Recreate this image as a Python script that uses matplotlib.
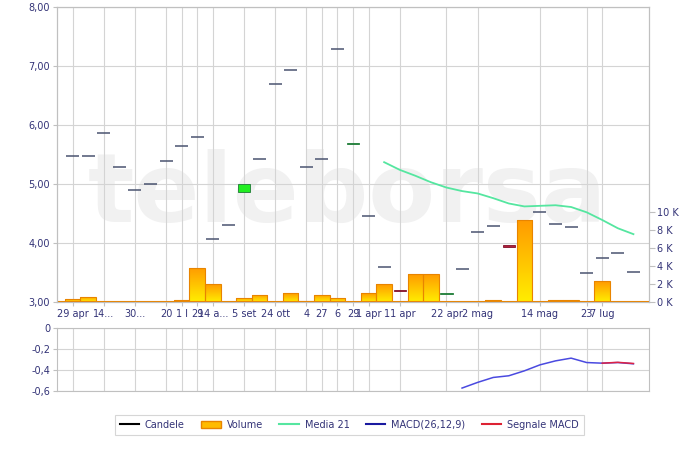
import numpy as np
import matplotlib
matplotlib.use("Agg")
import matplotlib.pyplot as plt
from matplotlib.colors import LinearSegmentedColormap
from matplotlib.lines import Line2D
from matplotlib.patches import Patch

# price candles (one per trading day), nan = not visible
open_p = [5.47, 5.47, 5.86, 5.28, 4.89, 5.00, 5.39, 5.64, 5.80, 4.06,
          4.30, 4.86, 5.42, 6.69, 6.93, 5.28, 5.42, 7.29, 5.68, 4.45,
          3.59, 3.21, np.nan, np.nan, 3.14, 3.56, 4.18, 4.28, 3.96, np.nan,
          4.53, 4.32, 4.27, 3.50, 3.75, 3.83, 3.51]
close_p = [5.47, 5.47, 5.86, 5.28, 4.89, 5.00, 5.39, 5.64, 5.80, 4.06,
           4.30, 5.00, 5.42, 6.69, 6.93, 5.28, 5.42, 7.29, 5.70, 4.45,
           3.59, 3.19, np.nan, np.nan, 3.16, 3.56, 4.18, 4.28, 3.93, np.nan,
           4.53, 4.32, 4.27, 3.50, 3.75, 3.83, 3.51]

# volume in thousands
volume = [0.3, 0.6, 0, 0, 0, 0, 0, 0.2, 3.8, 2.0,
          0, 0.5, 0.8, 0, 1.0, 0.1, 0.8, 0.5, 0, 1.0,
          2.0, 0, 3.1, 3.1, 0, 0, 0, 0.2, 0, 9.1,
          0, 0.2, 0.2, 0, 2.3, 0, 0]

ma_start = 20
ma21 = [5.37, 5.24, 5.14, 5.03, 4.94, 4.88, 4.84, 4.76, 4.67, 4.62,
        4.63, 4.64, 4.61, 4.52, 4.39, 4.25, 4.15]

macd_start = 25
macd = [-0.572, -0.518, -0.471, -0.455, -0.408, -0.351, -0.313, -0.287,
        -0.329, -0.335, -0.329, -0.341]
signal_start = 34
signal = [-0.335, -0.327, -0.338]

tick_pos = [0, 2, 4, 6, 7, 8, 9, 11, 13, 15, 16, 17, 18, 19, 21, 24, 26, 30, 33, 34]
tick_labels = ["29 apr", "14...", "30...", "20", "1 l", "29", "14 a...", "5 set",
               "24 ott", "4", "27", "6", "29", "1 apr", "11 apr", "22 apr",
               "2 mag", "14 mag", "23", "7 lug"]

txt = "#333377"
grid_c = "#d4d4d4"
spine_c = "#c0c0c0"

n = len(open_p)
x = np.arange(n)

fig = plt.figure(figsize=(7, 4.51), dpi=100)
ax = fig.add_axes([57/700, 1-302/451, 592/700, 295/451])
ax2 = ax.twinx()
axm = fig.add_axes([57/700, 1-391/451, 592/700, 63/451])

# watermark
ax.text(0.49, 0.36, "teleborsa", transform=ax.transAxes, ha="center", va="center",
        fontsize=70, fontweight="bold", color="#f1f1f1", zorder=0, clip_on=True,
        family=["Liberation Sans Narrow", "DejaVu Sans"])

# candles
o = np.array(open_p)
c = np.array(close_p)
doji = o == c
ax.hlines(o[doji], x[doji] - 0.42, x[doji] + 0.42, color="#4a5470", lw=1.1, zorder=3)
up = (c > o)
down = (c < o)
up_cols = ["#22ee22" if c[i] - o[i] > 0.05 else "#30a055" for i in x[up]]
ax.bar(x[up], c[up] - o[up], bottom=o[up], width=0.8, color=up_cols,
       edgecolor="#1d7a35", lw=0.6, zorder=3)
ax.bar(x[down], o[down] - c[down], bottom=c[down], width=0.8, color="#b0203c",
       edgecolor="#801028", lw=0.6, zorder=3)

ax.plot(np.arange(ma_start, ma_start + len(ma21)), ma21, color="#55e6a0", lw=1.3, zorder=4)

ax.set_xlim(-1, 37)
ax.set_ylim(3, 8)
ax.set_yticks([3, 4, 5, 6, 7, 8])
ax.set_yticklabels([f"{v:.2f}".replace(".", ",") for v in [3, 4, 5, 6, 7, 8]])
ax.set_xticks(tick_pos)
ax.set_xticklabels(tick_labels)
ax.set_axisbelow(True)
ax.grid(True, color=grid_c, lw=0.8)
ax.tick_params(axis="both", colors=spine_c, labelcolor=txt, labelsize=7, length=3, pad=2)
for s in ax.spines.values():
    s.set_color(spine_c)

# volume bars with vertical gradient
cmap = LinearSegmentedColormap.from_list("vol", ["#ffee00", "#ff9a00"])
grad = np.linspace(0, 1, 128).reshape(-1, 1)
bars = ax2.bar(x, volume, width=1.0, color="none", edgecolor="#e88400", lw=0.8, zorder=2)
for b in bars:
    h = b.get_height()
    if h <= 0:
        continue
    im = ax2.imshow(grad, extent=[b.get_x(), b.get_x() + b.get_width(), 0, h],
                    origin="lower", aspect="auto", cmap=cmap, zorder=1)
    im.set_clip_path(b)
ax2.axhline(0, color="#e88400", lw=1.5, zorder=2)
ax2.set_xlim(-1, 37)
ax2.set_ylim(0, 32.8)
ax2.set_yticks([0, 2, 4, 6, 8, 10])
ax2.set_yticklabels([f"{v} K" for v in [0, 2, 4, 6, 8, 10]])
ax2.tick_params(axis="y", colors=spine_c, labelcolor=txt, labelsize=7, length=4, pad=2)
for s in ax2.spines.values():
    s.set_color(spine_c)

# MACD panel
axm.plot(np.arange(macd_start, macd_start + len(macd)), macd, color="#4a4ae0", lw=1.1)
axm.plot(np.arange(signal_start, signal_start + len(signal)), signal, color="#dd2244", lw=1.1)
axm.set_xlim(-1, 37)
axm.set_ylim(-0.6, 0)
axm.set_yticks([0, -0.2, -0.4, -0.6])
axm.set_yticklabels(["0", "-0,2", "-0,4", "-0,6"])
axm.set_xticks(tick_pos)
axm.set_xticklabels([])
axm.grid(True, color=grid_c, lw=0.8)
axm.tick_params(axis="y", colors=spine_c, labelcolor=txt, labelsize=7, length=3, pad=2)
axm.tick_params(axis="x", length=0)
for s in axm.spines.values():
    s.set_color(spine_c)

handles = [
    Line2D([], [], color="black", lw=1.5),
    Patch(facecolor="#ffbb00", edgecolor="#e88400"),
    Line2D([], [], color="#55e6a0", lw=1.5),
    Line2D([], [], color="#1a1aa0", lw=1.5),
    Line2D([], [], color="#dd2233", lw=1.5),
]
labels = ["Candele", "Volume", "Media 21", "MACD(26,12,9)", "Segnale MACD"]
leg = fig.legend(handles, labels, loc="center", bbox_to_anchor=(0.499, 0.058), ncol=5,
                 fontsize=7, frameon=True, fancybox=False, edgecolor="#cccccc",
                 handlelength=2.0, columnspacing=1.7, handletextpad=0.6,
                 borderpad=0.5, labelcolor=txt)
leg.get_frame().set_linewidth(0.8)

fig.savefig("out.png", dpi=100)
